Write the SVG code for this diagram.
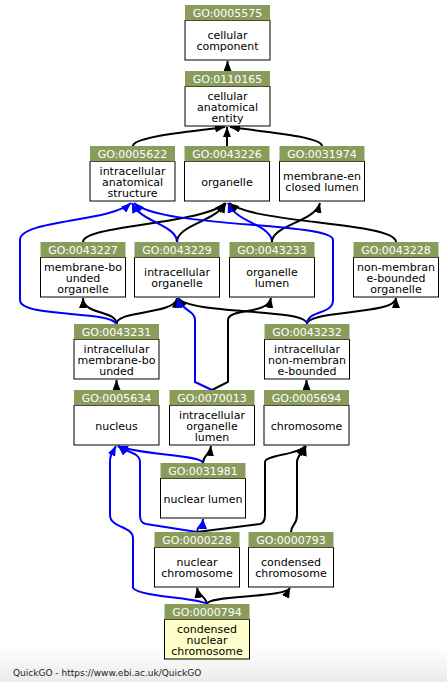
<svg xmlns="http://www.w3.org/2000/svg" width="447" height="682" viewBox="0 0 447 682">
<style>
.hd{fill:#8a9c5c}
.bd{fill:#fff;stroke:#000;stroke-width:1}
.bdy{fill:#ffffcc;stroke:#000;stroke-width:1}
.ht{font-family:"DejaVu Sans",sans-serif;font-size:11px;fill:#fff;text-anchor:middle}
.bt{font-family:"DejaVu Sans",sans-serif;font-size:11px;fill:#000;text-anchor:middle}
.k{fill:none;stroke:#000;stroke-width:2;marker-end:url(#ak)}
.b{fill:none;stroke:#0000ff;stroke-width:2;marker-end:url(#ab)}
.ft{font-family:"DejaVu Sans",sans-serif;font-size:9px;fill:#222}
</style>
<defs>
<linearGradient id="fg" x1="0" y1="0" x2="0" y2="1">
<stop offset="0" stop-color="#ffffff"/>
<stop offset="1" stop-color="#ececec"/>
</linearGradient>
<marker id="ak" markerUnits="userSpaceOnUse" markerWidth="10" markerHeight="8" refX="10" refY="4" orient="auto" viewBox="0 0 10 8"><path d="M0,0 L10,4 L0,8 z" fill="#000"/></marker>
<marker id="ab" markerUnits="userSpaceOnUse" markerWidth="10" markerHeight="8" refX="10" refY="4" orient="auto" viewBox="0 0 10 8"><path d="M0,0 L10,4 L0,8 z" fill="#0000ff"/></marker>
</defs>
<rect x="0" y="0" width="447" height="682" fill="#fff"/>
<rect x="0" y="645" width="447" height="37" fill="url(#fg)"/>
<g id="edges">
<path class="k" d="M227.5,71 L227.5,61"/>
<path class="k" d="M133,146 C133,136 200,131 225,127"/>
<path class="k" d="M227,146 L227,127"/>
<path class="k" d="M322,146 C322,136 255,131 230,127"/>
<path class="k" d="M83,242 C83,225 205,224 225,203"/>
<path class="k" d="M177,242 C177,225 215,222 226,203"/>
<path class="b" d="M177,242 C177,225 140,222 132,203"/>
<path class="b" d="M272,242 C272,225 235,222 228,203"/>
<path class="k" d="M272,242 C272,225 315,222 320,203"/>
<path class="k" d="M396,242 C396,222 255,224 229,203"/>
<path class="k" d="M116.5,324 C116.5,310 83,315 83,298"/>
<path class="k" d="M116.5,324 C116.5,310 175,315 177,298"/>
<path class="b" d="M116.5,324 C110,310 20,318 20,300 L20,240 C20,220 110,222 131,203"/>
<path class="k" d="M307,324 C307,308 190,315 178,298"/>
<path class="k" d="M307,324 C307,310 396,315 396,298"/>
<path class="b" d="M307,324 C307,310 333,315 333,300 L333,240 C333,222 160,228 134,203"/>
<path class="b" d="M212,390 L195,382 L195,320 C195,310 180,310 178,298"/>
<path class="k" d="M212,390 L228,382 L228,320 C228,308 268,315 271,298"/>
<path class="k" d="M116.5,390 L116.5,380"/>
<path class="k" d="M306.5,390 L306.5,380"/>
<path class="k" d="M203,463 C203,455 210,455 211,446"/>
<path class="b" d="M203,463 C203,455 140,455 118,446"/>
<path class="b" d="M197,532 C197,525 203,526 203,519"/>
<path class="b" d="M197,532 L146,524 C141,523 140,520 140,515 L140,462 C140,452 125,452 118,446"/>
<path class="k" d="M197,532 L260,524 C264,523 265,520 265,515 L265,462 C265,455 298,455 305,446"/>
<path class="k" d="M291,532 C291,525 297,525 297,515 L297,462 C297,455 304,452 306,446"/>
<path class="k" d="M207,604 C207,598 198,595 197,588"/>
<path class="k" d="M207,604 C207,595 285,598 290,588"/>
<path class="b" d="M207,604 C200,598 140,597 133,588 L133,538 C133,526 110,528 110,515 L110,462 C110,452 114,450 116,446"/>
</g>
<g id="GO_0005575" transform="translate(185,5)"><rect class="bd" x="0" y="15.5" width="85" height="39.5"/><rect class="hd" width="85" height="15.5"/><text class="ht" x="42.5" y="12">GO:0005575</text><text class="bt" x="42.5" y="33.5">cellular</text><text class="bt" x="42.5" y="44.5">component</text></g>
<g id="GO_0110165" transform="translate(185,71)"><rect class="bd" x="0" y="15.5" width="85" height="39.5"/><rect class="hd" width="85" height="15.5"/><text class="ht" x="42.5" y="12">GO:0110165</text><text class="bt" x="42.5" y="28.5">cellular</text><text class="bt" x="42.5" y="39.5">anatomical</text><text class="bt" x="42.5" y="50.5">entity</text></g>
<g id="GO_0005622" transform="translate(90,146)"><rect class="bd" x="0" y="15.5" width="85" height="39.5"/><rect class="hd" width="85" height="15.5"/><text class="ht" x="42.5" y="12">GO:0005622</text><text class="bt" x="42.5" y="28.5">intracellular</text><text class="bt" x="42.5" y="39.5">anatomical</text><text class="bt" x="42.5" y="50.5">structure</text></g>
<g id="GO_0043226" transform="translate(184.5,146)"><rect class="bd" x="0" y="15.5" width="85" height="39.5"/><rect class="hd" width="85" height="15.5"/><text class="ht" x="42.5" y="12">GO:0043226</text><text class="bt" x="42.5" y="39.5">organelle</text></g>
<g id="GO_0031974" transform="translate(279.5,146)"><rect class="bd" x="0" y="15.5" width="85" height="39.5"/><rect class="hd" width="85" height="15.5"/><text class="ht" x="42.5" y="12">GO:0031974</text><text class="bt" x="42.5" y="33.5">membrane-en</text><text class="bt" x="42.5" y="44.5">closed lumen</text></g>
<g id="GO_0043227" transform="translate(40.5,242)"><rect class="bd" x="0" y="15.5" width="85" height="39.5"/><rect class="hd" width="85" height="15.5"/><text class="ht" x="42.5" y="12">GO:0043227</text><text class="bt" x="42.5" y="28.5">membrane-bo</text><text class="bt" x="42.5" y="39.5">unded</text><text class="bt" x="42.5" y="50.5">organelle</text></g>
<g id="GO_0043229" transform="translate(134.5,242)"><rect class="bd" x="0" y="15.5" width="85" height="39.5"/><rect class="hd" width="85" height="15.5"/><text class="ht" x="42.5" y="12">GO:0043229</text><text class="bt" x="42.5" y="33.5">intracellular</text><text class="bt" x="42.5" y="44.5">organelle</text></g>
<g id="GO_0043233" transform="translate(229.5,242)"><rect class="bd" x="0" y="15.5" width="85" height="39.5"/><rect class="hd" width="85" height="15.5"/><text class="ht" x="42.5" y="12">GO:0043233</text><text class="bt" x="42.5" y="33.5">organelle</text><text class="bt" x="42.5" y="44.5">lumen</text></g>
<g id="GO_0043228" transform="translate(353.5,242)"><rect class="bd" x="0" y="15.5" width="85" height="39.5"/><rect class="hd" width="85" height="15.5"/><text class="ht" x="42.5" y="12">GO:0043228</text><text class="bt" x="42.5" y="28.5">non-membran</text><text class="bt" x="42.5" y="39.5">e-bounded</text><text class="bt" x="42.5" y="50.5">organelle</text></g>
<g id="GO_0043231" transform="translate(74,324)"><rect class="bd" x="0" y="15.5" width="85" height="39.5"/><rect class="hd" width="85" height="15.5"/><text class="ht" x="42.5" y="12">GO:0043231</text><text class="bt" x="42.5" y="28.5">intracellular</text><text class="bt" x="42.5" y="39.5">membrane-bo</text><text class="bt" x="42.5" y="50.5">unded</text></g>
<g id="GO_0043232" transform="translate(264.5,324)"><rect class="bd" x="0" y="15.5" width="85" height="39.5"/><rect class="hd" width="85" height="15.5"/><text class="ht" x="42.5" y="12">GO:0043232</text><text class="bt" x="42.5" y="28.5">intracellular</text><text class="bt" x="42.5" y="39.5">non-membran</text><text class="bt" x="42.5" y="50.5">e-bounded</text></g>
<g id="GO_0005634" transform="translate(74,390)"><rect class="bd" x="0" y="15.5" width="85" height="39.5"/><rect class="hd" width="85" height="15.5"/><text class="ht" x="42.5" y="12">GO:0005634</text><text class="bt" x="42.5" y="39.5">nucleus</text></g>
<g id="GO_0070013" transform="translate(169.5,390)"><rect class="bd" x="0" y="15.5" width="85" height="39.5"/><rect class="hd" width="85" height="15.5"/><text class="ht" x="42.5" y="12">GO:0070013</text><text class="bt" x="42.5" y="28.5">intracellular</text><text class="bt" x="42.5" y="39.5">organelle</text><text class="bt" x="42.5" y="50.5">lumen</text></g>
<g id="GO_0005694" transform="translate(264,390)"><rect class="bd" x="0" y="15.5" width="85" height="39.5"/><rect class="hd" width="85" height="15.5"/><text class="ht" x="42.5" y="12">GO:0005694</text><text class="bt" x="42.5" y="39.5">chromosome</text></g>
<g id="GO_0031981" transform="translate(160.5,463)"><rect class="bd" x="0" y="15.5" width="85" height="39.5"/><rect class="hd" width="85" height="15.5"/><text class="ht" x="42.5" y="12">GO:0031981</text><text class="bt" x="42.5" y="39.5">nuclear lumen</text></g>
<g id="GO_0000228" transform="translate(154.5,532)"><rect class="bd" x="0" y="15.5" width="85" height="39.5"/><rect class="hd" width="85" height="15.5"/><text class="ht" x="42.5" y="12">GO:0000228</text><text class="bt" x="42.5" y="33.5">nuclear</text><text class="bt" x="42.5" y="44.5">chromosome</text></g>
<g id="GO_0000793" transform="translate(248.5,532)"><rect class="bd" x="0" y="15.5" width="85" height="39.5"/><rect class="hd" width="85" height="15.5"/><text class="ht" x="42.5" y="12">GO:0000793</text><text class="bt" x="42.5" y="33.5">condensed</text><text class="bt" x="42.5" y="44.5">chromosome</text></g>
<g id="GO_0000794" transform="translate(164.5,604)"><rect class="bdy" x="0" y="15.5" width="85" height="39.5"/><rect class="hd" width="85" height="15.5"/><text class="ht" x="42.5" y="12">GO:0000794</text><text class="bt" x="42.5" y="28.5">condensed</text><text class="bt" x="42.5" y="39.5">nuclear</text><text class="bt" x="42.5" y="50.5">chromosome</text></g>
<text class="ft" x="13" y="676">QuickGO - https://www.ebi.ac.uk/QuickGO</text>
</svg>
